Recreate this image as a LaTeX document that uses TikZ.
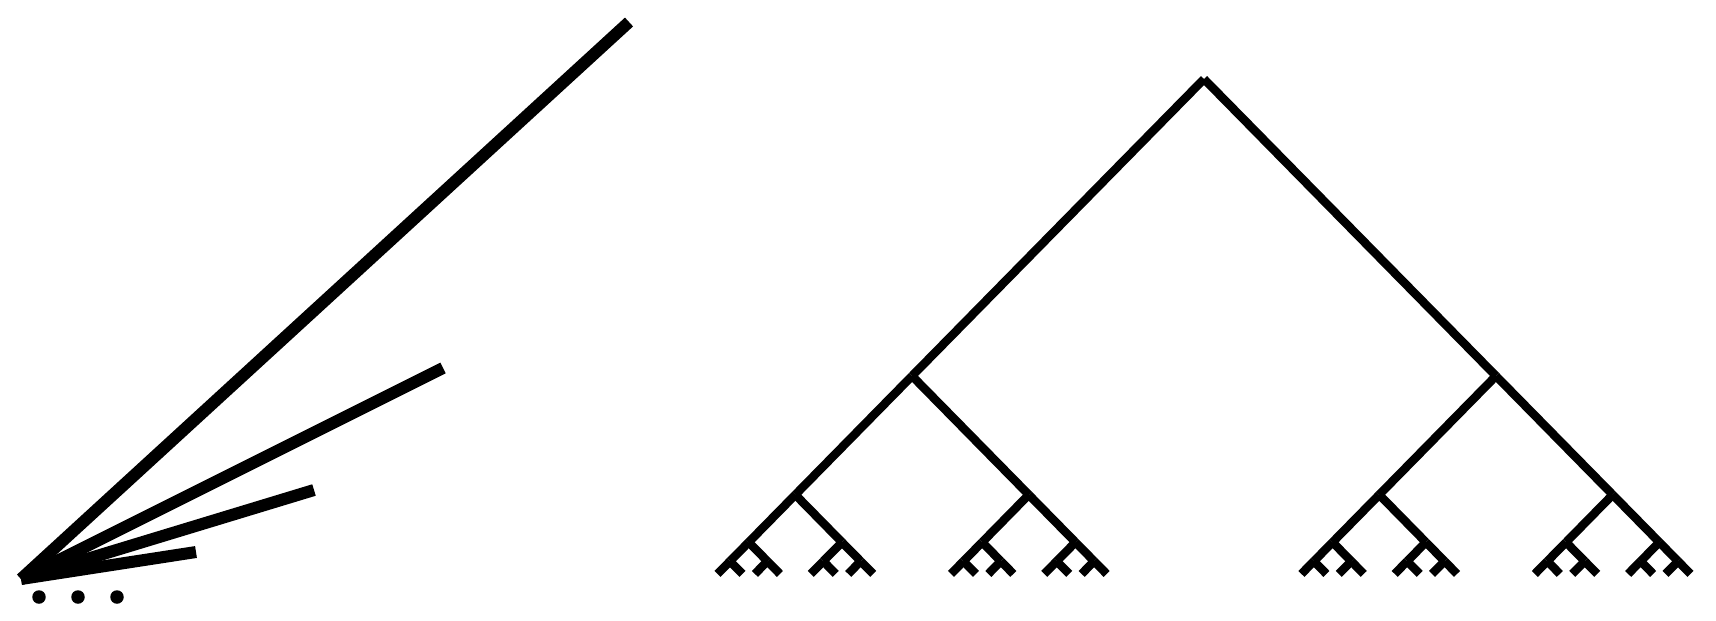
\documentclass[tikz,border=0pt]{standalone}
\usepackage{tikz}
\begin{document}
\begin{tikzpicture}[x=0.02cm,y=-0.02cm,
  fanline/.style={line width=0.24cm},
  treeline/.style={line width=0.17cm},
  dotmark/.style={circle,fill,inner sep=0pt,minimum size=0.27cm},
  edge from parent/.style={draw,treeline},
  level 1/.style={level distance=5.94cm,sibling distance=11.68cm},
  level 2/.style={level distance=2.376cm,sibling distance=4.67cm},
  level 3/.style={level distance=0.95cm,sibling distance=1.866cm},
  level 4/.style={level distance=0.38cm,sibling distance=0.748cm},
  level 5/.style={level distance=0.254cm,sibling distance=0.5cm}]
\useasboundingbox (0,0) rectangle (1716,620);
% fan of rays
\coordinate (fan) at (21,579);
\foreach \ex/\ey [count=\i] in {629/22,443/368,314/490,196/552} {
\coordinate (ray\i) at (\ex,\ey);
\draw[fanline] (fan) -- (ray\i);
}
\foreach \x [count=\i] in {39,78,117} {
\node[dotmark] (dot\i) at (\x,597) {};
}
% binary tree
\coordinate (root) at (1204,79)
  child foreach \a in {1,2} {child foreach \b in {1,2} {child foreach \c in {1,2} {
    child foreach \d in {1,2} {child foreach \e in {1,2} {coordinate}}}}};
\end{tikzpicture}
\end{document}
